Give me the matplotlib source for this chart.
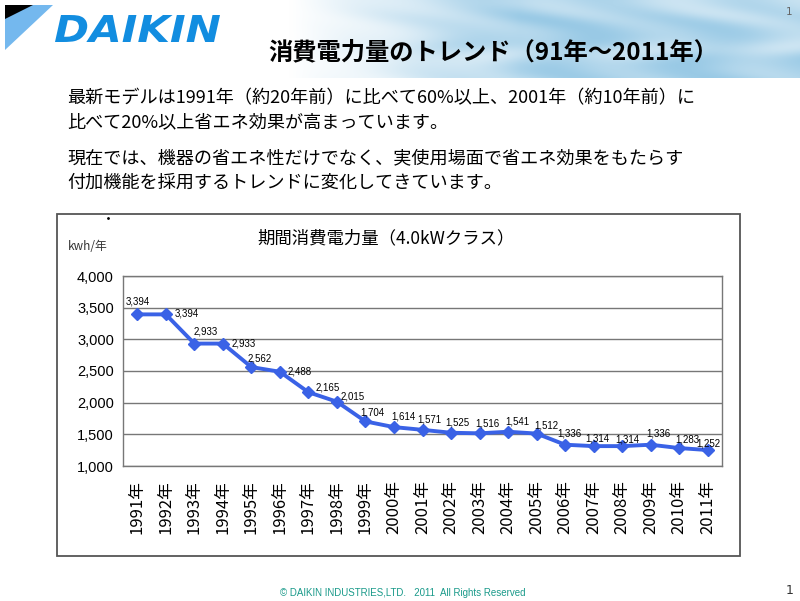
import numpy as np
import matplotlib
matplotlib.use('Agg')
import matplotlib.pyplot as plt
from matplotlib.patches import Rectangle, Polygon, PathPatch
from matplotlib.textpath import TextPath
from matplotlib.font_manager import FontProperties
from matplotlib.transforms import Affine2D

# ---------------- data ----------------
years = ['1991年', '1992年', '1993年', '1994年', '1995年', '1996年', '1997年',
         '1998年', '1999年', '2000年', '2001年', '2002年', '2003年', '2004年',
         '2005年', '2006年', '2007年', '2008年', '2009年', '2010年', '2011年']
values = [3394, 3394, 2933, 2933, 2562, 2488, 2165, 2015, 1704, 1614, 1571,
          1525, 1516, 1541, 1512, 1336, 1314, 1314, 1336, 1283, 1252]
y_ticks = [1000, 1500, 2000, 2500, 3000, 3500, 4000]

title = '消費電力量のトレンド（91年～2011年）'
body_lines = ['最新モデルは1991年（約20年前）に比べて60%以上、2001年（約10年前）に',
              '比べて20%以上省エネ効果が高まっています。',
              '現在では、機器の省エネ性だけでなく、実使用場面で省エネ効果をもたらす',
              '付加機能を採用するトレンドに変化してきています。']
chart_title = '期間消費電力量（4.0kWクラス）'
unit_label = 'kwh/年'
footer = '© DAIKIN INDUSTRIES,LTD.   2011  All Rights Reserved'

# label offsets in pixels (style)
label_offsets = [(1, -12.6), (20.6, -0.6), (11, -11.6), (21, 0), (8, -9), (20, -0.4),
                 (19, -5), (16, -5), (7, -9), (9, -11), (7, -10), (6, -10), (8, -10),
                 (9, -10), (10, -8), (4, -11), (4, -8), (5, -7), (8, -11), (8, -9), (1, -7)]

CJK = ['Noto Sans CJK JP', 'DejaVu Sans']
W, H = 800, 601
fig = plt.figure(figsize=(8, 6.01), dpi=100)
fig.patch.set_facecolor('white')

bg = fig.add_axes([0, 0, 1, 1], zorder=0)
bg.axis('off')

# sky header
xs = np.linspace(0, W, 400)
ys = np.linspace(0, 78, 60)
X, Y = np.meshgrid(xs, ys)
ramp = np.clip((X - 290) / 230, 0, 1)
cloud = 0.5 + 0.5 * np.sin(X / 37 + np.cos(Y / 11) * 2) * np.cos(Y / 19 - X / 53)
sky = np.array([0.60, 0.79, 0.90])
mix = ramp * (1 - 0.5 * cloud)
img = np.ones(3) * (1 - mix[..., None]) + sky * mix[..., None]
bg.imshow(img, extent=(0, W, 78, 0), aspect='auto', interpolation='bilinear', zorder=0)
bg.set_xlim(0, W)
bg.set_ylim(H, 0)

# logo
bg.add_patch(Polygon([(5, 5), (53, 5), (5, 50)], closed=True, fc='#74b8ee', ec='none', zorder=2))
bg.add_patch(Polygon([(5, 5), (33, 5), (5, 19)], closed=True, fc='black', ec='none', zorder=3))
tp = TextPath((0, 0), 'DAIKIN', size=1,
              prop=FontProperties(family='DejaVu Sans', weight='bold', style='italic'))
bb = tp.get_extents()
tr = Affine2D().translate(-bb.x0, -bb.y0).scale(165 / bb.width, -27 / bb.height).translate(55, 42)
bg.add_patch(PathPatch(tr.transform_path(tp), fc='#128de0', ec='none', zorder=3))

# title & body
bg.text(493, 52, title, fontsize=17.5, fontweight='bold', ha='center', va='center', family=CJK, zorder=4)
for (yy, line) in zip([98, 122, 158, 183], body_lines):
    bg.text(67, yy, line, fontsize=13.05, ha='left', va='center', family=CJK, zorder=4)

# chart frame
bg.add_patch(Rectangle((57, 214), 683, 342, fill=False, ec='#555555', lw=1.3, zorder=2))
bg.text(386, 238, chart_title, fontsize=12.5, ha='center', va='center', family=CJK, zorder=4)
bg.text(68, 246, unit_label, fontsize=8.5, ha='left', va='center', family=CJK, color='#333333', zorder=4)
bg.plot([108], [218], marker='.', ms=2, color='black', zorder=4)

# footer / page numbers
bg.text(403, 593, footer, fontsize=7, ha='center', va='center', color='#1a9a8a',
        family='Liberation Sans', zorder=4)
bg.text(789, 12, '1', fontsize=7.5, ha='center', va='center', color='#666666', zorder=4)
bg.text(790, 591, '1', fontsize=9, ha='center', va='center', color='#333333', zorder=4)

# main plot
L, R, T, B = 123, 722, 276, 466
ax = fig.add_axes([L / W, 1 - B / H, (R - L) / W, (B - T) / H], zorder=2)
ax.set_facecolor('white')
x = np.arange(len(values))
blue = '#3a62e6'
ax.plot(x, values, color=blue, lw=2.8, marker='D', ms=6.5, zorder=3)
ax.set_xlim(-0.5, len(values) - 0.5)
ax.set_ylim(y_ticks[0], y_ticks[-1])
ax.set_yticks(y_ticks)
ax.set_yticklabels([f'{v:,}' for v in y_ticks], fontsize=10.5, family='Liberation Sans')
ax.set_xticks(x)
ax.set_xticklabels(years, rotation=90, fontsize=12, family=CJK, va='top', ha='center')
ax.tick_params(axis='both', length=0)
ax.tick_params(axis='y', pad=6.5)
ax.tick_params(axis='x', pad=10)
ax.yaxis.grid(True, color='#777777', lw=1)
ax.set_axisbelow(True)
for s in ax.spines.values():
    s.set_color('#777777')
    s.set_linewidth(1)

for i, v in enumerate(values):
    dx, dy = label_offsets[i]
    ax.annotate(f'{v:,}', (i, v), xytext=(dx * 0.72, -dy * 0.72), textcoords='offset points',
                ha='center', va='center', fontsize=7, family='Liberation Sans', zorder=4)

fig.savefig('out.png', dpi=100)
